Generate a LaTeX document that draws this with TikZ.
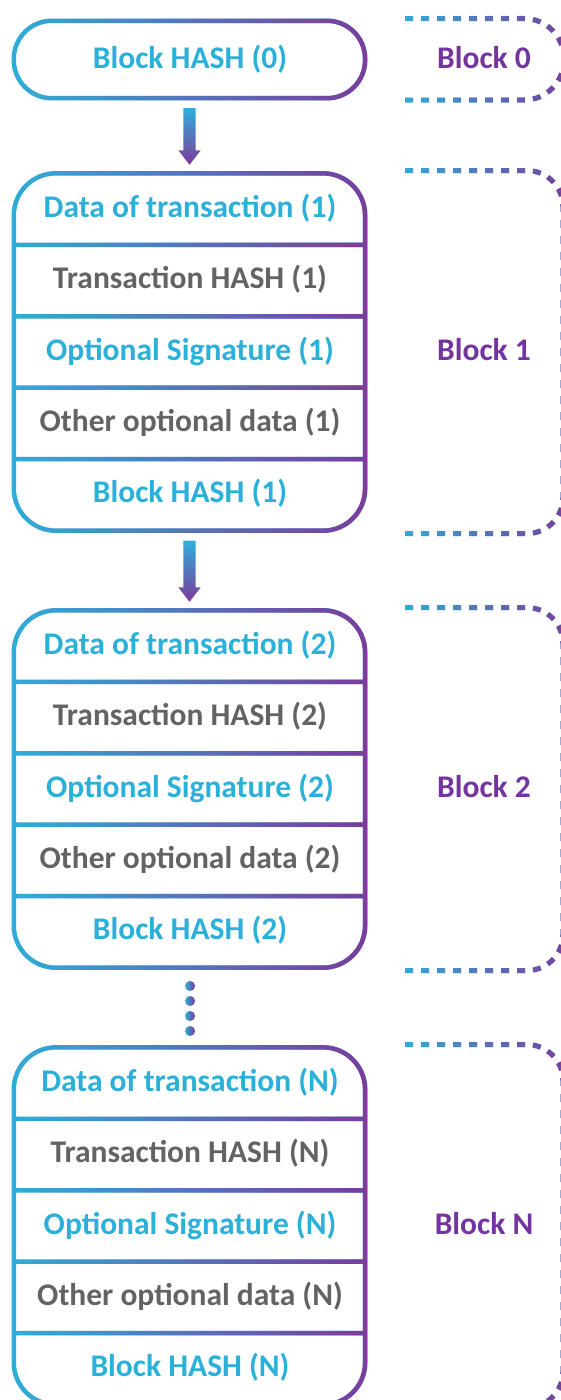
\documentclass[tikz,border=0pt]{standalone}
\usepackage{fontspec}
\setmainfont{Carlito}
\usetikzlibrary{fadings,calc}

\definecolor{cyanA}{HTML}{2EAFD9}
\definecolor{purpA}{HTML}{7D3A9B}
\definecolor{txtcyan}{HTML}{2BB0D9}
\definecolor{txtgray}{HTML}{636363}
\definecolor{txtpurp}{HTML}{7434A0}

% transparent on the left, opaque on the right
\tikzfading[name=lefttoright, left color=transparent!100, right color=transparent!0]

% cyan-to-purple horizontal gradient for a stroked path
\newcommand\gradstroke[2]{%
  \draw[cyanA,#1] #2;
  \draw[purpA,#1,path fading=lefttoright] #2;
}
% same for a filled path
\newcommand\gradfill[1]{%
  \fill[cyanA] #1;
  \fill[purpA,path fading=lefttoright] #1;
}

\tikzset{
  frame/.style={line width=4.5pt},
  brace/.style={line width=5pt, dash pattern=on 8pt off 8pt},
  holder/.style={inner sep=0pt, minimum width=351pt, draw=none},
  rowc/.style={anchor=base, inner sep=0pt, text=txtcyan,
               font=\bfseries\fontsize{31.5}{36}\selectfont},
  rowg/.style={rowc, text=txtgray},
  lbl/.style={rowc, text=txtpurp},
}

% thick shaded arrow from the bottom of one block to the top of the next
\newcommand\blockarrow[2]{%
  \shade[top color=cyanA, bottom color=purpA]
    ($(#1.south)+(-6.2,10)$) -- ($(#1.south)+(6.2,10)$)
    -- ($(#2.north)+(6.2,-23)$) -- ($(#2.north)+(11.2,-23)$)
    -- ($(#2.north)+(0,-8.5)$) -- ($(#2.north)+(-11.2,-23)$)
    -- ($(#2.north)+(-6.2,-23)$) -- cycle;
}

\begin{document}
\begin{tikzpicture}[x=1pt, y=-1pt]
\fill[white] (0,0) rectangle (561,1400);
\useasboundingbox (0,0) rectangle (561,1400);

% genesis block
\node[holder, minimum height=77pt] (blk0) at (189.5,59.5) {};
\gradstroke{frame}{($(blk0.north west)+(-4,-4)$) ($(blk0.south east)+(4,4)$)
  [rounded corners=38pt] (blk0.north west) rectangle (blk0.south east)}
\node[rowc] (bh0) at (190,68.5) {Block HASH (0)};

\gradstroke{brace}{(400,13) (569,105) [rounded corners=40pt]
  (405,18.5) -- (564,18.5) -- (564,59.25)}
\gradstroke{brace}{(400,13) (569,105) [rounded corners=40pt]
  (405,100) -- (564,100) -- (564,59.25)}
\node[lbl] (lab0) at (484,68) {Block 0};

% chained blocks with five rows each
\foreach \id/\top in {1/173.5, 2/610.5, N/1047.5}{
  \node[holder, minimum height=357pt] (blk\id) at (189.5,\top+178.5) {};
  \gradstroke{frame}{($(blk\id.north west)+(-4,-4)$) ($(blk\id.south east)+(4,4)$)
    [rounded corners=42pt] (blk\id.north west) rectangle (blk\id.south east)
    [sharp corners]
    (14,\top+71.4) -- (365,\top+71.4)
    (14,\top+142.8) -- (365,\top+142.8)
    (14,\top+214.2) -- (365,\top+214.2)
    (14,\top+285.6) -- (365,\top+285.6)}
  \node[rowc] (data\id) at (190,\top+43.7) {Data of transaction (\id)};
  \node[rowg] (txh\id)  at (190,\top+115.1) {Transaction HASH (\id)};
  \node[rowc] (sig\id)  at (190,\top+186.5) {Optional Signature (\id)};
  \node[rowg] (oth\id)  at (190,\top+257.9) {Other optional data (\id)};
  \node[rowc] (bh\id)   at (190,\top+329.3) {Block HASH (\id)};

  \gradstroke{brace}{(400,\top-8) (568,\top+365) [rounded corners=36pt]
    (405,\top-3) -- (563,\top-3) -- (563,\top+178.5)}
  \gradstroke{brace}{(400,\top-8) (568,\top+365) [rounded corners=36pt]
    (405,\top+360) -- (563,\top+360) -- (563,\top+178.5)}
  \node[lbl] (lab\id) at (484,\top+186.5) {Block \id};
}

\blockarrow{blk0}{blk1}
\blockarrow{blk1}{blk2}

% ellipsis between block 2 and block N
\gradfill{(190,986) circle (5pt) (190,1001) circle (5pt)
  (190,1016) circle (5pt) (190,1031) circle (5pt)}
\end{tikzpicture}
\end{document}
